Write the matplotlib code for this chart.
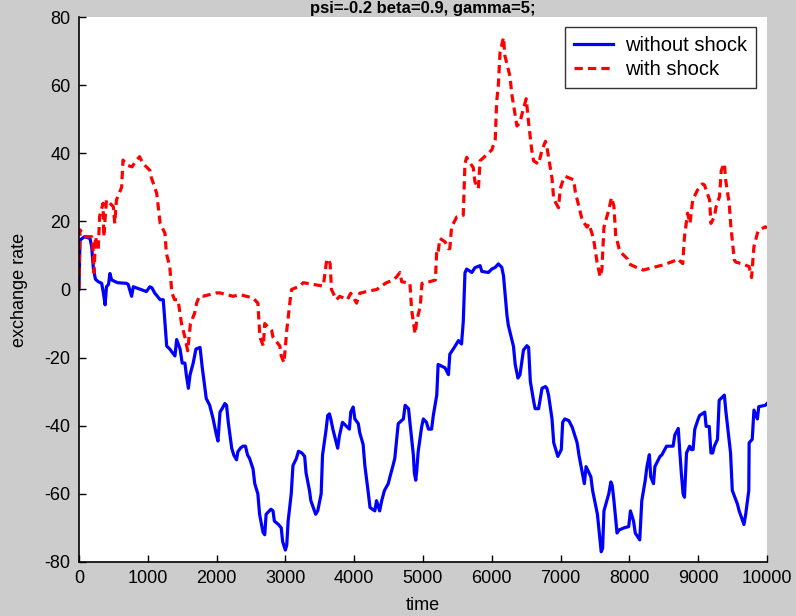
import numpy as np
from matplotlib import pyplot as plt

plt.rcParams['font.family'] = ['Liberation Sans', 'DejaVu Sans']
plt.rcParams['axes.unicode_minus'] = False

# without shock (blue)
t_blue = [0, 15, 80, 160, 185, 210, 240, 280, 330, 355, 380, 400, 430, 450, 475, 560, 690, 715, 765, 790,
          900, 980, 1030, 1060, 1100, 1180, 1225, 1250, 1275, 1320, 1395, 1420, 1470, 1500, 1540, 1560, 1590,
          1615, 1660, 1700, 1760, 1790, 1850, 1900, 1950, 1990, 2020, 2050, 2080, 2120, 2145, 2170, 2220, 2250,
          2290, 2310, 2350, 2385, 2420, 2450, 2480, 2530, 2555, 2600, 2625, 2675, 2700, 2720, 2790, 2820, 2840,
          2900, 2940, 2960, 3000, 3020, 3040, 3085, 3110, 3160, 3190, 3240, 3280, 3300, 3350, 3370, 3440, 3470,
          3520, 3540, 3590, 3615, 3640, 3660, 3690, 3760, 3785, 3830, 3880, 3930, 3950, 3985, 4010, 4060, 4080,
          4130, 4155, 4200, 4230, 4300, 4325, 4370, 4400, 4440, 4495, 4520, 4560, 4590, 4640, 4715, 4740, 4790,
          4810, 4860, 4875, 4895, 4910, 4930, 4980, 5005, 5050, 5080, 5125, 5150, 5200, 5220, 5270, 5320, 5370,
          5390, 5465, 5515, 5560, 5585, 5610, 5635, 5710, 5755, 5830, 5855, 5950, 6000, 6050, 6095, 6145, 6170,
          6220, 6240, 6315, 6340, 6380, 6410, 6460, 6510, 6535, 6560, 6610, 6630, 6680, 6730, 6780, 6800, 6825,
          6875, 6900, 6960, 7010, 7030, 7060, 7120, 7170, 7240, 7270, 7345, 7370, 7440, 7465, 7535, 7560, 7590,
          7610, 7630, 7700, 7730, 7750, 7775, 7820, 7850, 7920, 7990, 8015, 8060, 8085, 8150, 8180, 8230, 8255,
          8290, 8310, 8350, 8370, 8445, 8470, 8540, 8635, 8660, 8710, 8730, 8755, 8780, 8800, 8830, 8875, 8900,
          8925, 8950, 9000, 9020, 9095, 9115, 9160, 9185, 9210, 9235, 9280, 9305, 9380, 9400, 9470, 9495, 9570,
          9595, 9665, 9690, 9735, 9740, 9785, 9810, 9860, 9880, 9975, 10000]
y_blue = [0, 14.5, 15.5, 15, 12.5, 6, 3, 2.3, 1.8, -1, -4.5, 0.8, 1.5, 4.7, 2.8, 2, 1.8, 1.5, -2, 0.8,
          0, -0.6, 0.8, 0.5, -1, -3, -3, -10, -16.6, -17.5, -19.5, -14.7, -17.5, -21.6, -21.6, -25, -29,
          -25, -21.6, -17.5, -17, -22.6, -32, -34, -38, -42, -44.5, -36, -35, -33.5, -34, -39, -46.6, -48.6,
          -50, -47.6, -46.5, -46, -46, -48.6, -49.6, -52.7, -57, -60, -66, -71.3, -72, -66, -64.5, -65, -68,
          -69, -70, -74, -76.5, -75, -68, -60, -51.7, -49.6, -47.5, -48, -49, -53.8, -59, -62, -66, -65,
          -60, -48.6, -41.4, -37, -36.5, -38, -41, -46.6, -43, -39, -40, -41, -36, -34.5, -38, -39.4, -42,
          -45.5, -51.7, -58.9, -64, -65, -62, -65, -62, -59, -57, -55, -52, -49.6, -39.4, -38, -34, -35,
          -39, -48.6, -54, -56, -53, -47.6, -40.4, -38, -39, -41, -41, -37, -31, -22, -22.5, -23, -25,
          -19, -16.7, -15, -16, -9.5, 4.9, 6, 5, 6.4, 7, 5.3, 5, 6, 6.5, 7.5, 6.5, 4,
          -7.5, -10.5, -16.7, -22, -26, -25, -17.8, -16.5, -17, -27, -33, -35, -35, -29, -28.5, -29, -31,
          -38, -45, -49, -47, -39, -38, -38.5, -40.5, -45, -49, -57, -52, -55, -59, -66, -71, -77,
          -76, -65, -60, -56.5, -57.5, -62, -71.5, -70.6, -70, -69.6, -65, -68, -71.5, -73.5, -62, -56, -52,
          -48.5, -55, -57, -52, -49, -48.6, -46, -46, -42.7, -40.8, -47, -54, -60, -61, -48, -46, -47,
          -47, -41, -38, -37, -36, -40.2, -40.2, -48, -48, -46, -44, -32.5, -31, -35.4, -48, -59, -63,
          -65, -69, -66, -59, -45, -44, -35.4, -38, -34.4, -34, -33.5]

# with shock (red)
t_red = [0, 15, 100, 185, 200, 220, 240, 280, 300, 350, 360, 400, 500, 520, 545, 620, 640, 700, 770, 820,
         880, 930, 1030, 1050, 1130, 1180, 1250, 1270, 1320, 1350, 1390, 1440, 1490, 1540, 1580, 1620, 1680,
         1710, 1750, 1800, 2000, 2050, 2240, 2340, 2530, 2600, 2630, 2680, 2700, 2800, 2820, 2920, 2940, 2980,
         3020, 3070, 3090, 3210, 3260, 3400, 3550, 3600, 3620, 3650, 3670, 3740, 3790, 3900, 3950, 4035, 4080,
         4200, 4330, 4375, 4470, 4570, 4620, 4665, 4690, 4810, 4835, 4885, 4910, 4960, 4985, 5100, 5180, 5200,
         5220, 5245, 5320, 5370, 5390, 5415, 5465, 5490, 5585, 5610, 5635, 5660, 5730, 5755, 5805, 5830, 5950,
         6000, 6050, 6070, 6095, 6120, 6170, 6190, 6265, 6290, 6340, 6365, 6410, 6435, 6500, 6535, 6580, 6607,
         6680, 6730, 6780, 6800, 6825, 6875, 6900, 6970, 6995, 7045, 7070, 7190, 7215, 7290, 7315, 7385, 7410,
         7460, 7485, 7530, 7575, 7600, 7630, 7700, 7740, 7775, 7800, 7850, 7870, 7970, 7995, 8100, 8200, 8350,
         8490, 8600, 8680, 8700, 8775, 8800, 8845, 8880, 8920, 8990, 9060, 9090, 9115, 9165, 9185, 9235, 9260,
         9310, 9335, 9380, 9400, 9450, 9475, 9525, 9550, 9650, 9740, 9775, 9810, 9860, 9880, 9975, 10000]
y_red = [0, 17.5, 15.5, 15.5, 13.5, 5, 15.5, 11.6, 21.4, 25.3, 15.5, 26.3, 24.3, 19.4, 26.3, 30, 38, 36.5, 36, 37.5,
         39, 37, 35, 33, 28.2, 19.4, 16.5, 10.6, 6.7, -1, -3, -3, -10, -14, -18, -10, -7,
         -4, -2, -2, -1, -1, -2, -1.5, -2.5, -4, -14, -16.6, -10, -12, -14, -16.6, -19.5, -21.5,
         -12, -3, 0, 1, 2, 1.5, 1, 8.5, 9, 7.6, 0, -3, -2, -3, -1.1, -4, -1.1,
         -0.5, 0, 0.8, 2, 2.8, 3.8, 5, 2.3, 1.8, -6, -13, -9, -5, 1.8, 2.3, 2.8, 11.6,
         11, 15, 14, 12, 12, 18.3, 20.3, 21.3, 21.8, 37, 38.8, 37.8, 35.8, 31.6, 29.6, 37.8, 40,
         41, 44, 55, 60, 69.7, 74, 68.7, 62.5, 57.4, 51.2, 48, 49, 51.2, 56, 49, 41, 37.8,
         36.8, 41, 43.5, 42, 38.8, 32.7, 26.5, 24, 29.6, 32.7, 33.2, 32.2, 28.5, 22.4, 20.3, 18.3, 19.3,
         16.2, 14, 8, 3.7, 6, 18.3, 23.4, 27, 24.4, 16, 12, 11, 9, 7.5, 6.5, 5.7, 6.5,
         7.2, 8, 8.6, 9, 7.6, 15.5, 22.4, 19.4, 26.3, 29.2, 31, 30.7, 29.2, 26.3, 19.4, 21.4, 24.3,
         27.3, 35, 37, 32, 25.3, 18.4, 8.6, 8, 7.5, 6.7, 3.5, 12.6, 16.5, 17.4, 18.4, 18]

xtickpos = list(range(0, 10001, 1000))
ytickpos = list(range(-80, 81, 20))

fig = plt.figure(figsize=(7.96, 6.16), dpi=100, facecolor='#cccccc')
ax = fig.add_axes([0.0992, 0.0877, 0.8644, 0.8847])
ax.set_facecolor('white')

ax.plot(t_blue, y_blue, color='#0000ff', lw=2.3, label='without shock')
ax.plot(t_red, y_red, color='#ff0000', lw=2.3, linestyle=(0, (2.6, 1.6)), label='with shock')

ax.set_xlim(0, 10000)
ax.set_ylim(-80, 80)
ax.set_xticks(xtickpos)
ax.set_yticks(ytickpos)
ax.tick_params(direction='in', length=5, width=1, labelsize=13, colors='black')
ax.tick_params(axis='x', pad=6)
ax.tick_params(axis='y', pad=6)
for s in ['top', 'right']:
    ax.spines[s].set_visible(False)
for s in ['left', 'bottom']:
    ax.spines[s].set_linewidth(1.2)

ax.set_xlabel('time', fontsize=13, labelpad=7)
ax.set_ylabel('exchange rate', fontsize=13, labelpad=12)
fig.text(0.531, 0.999, 'psi=-0.2 beta=0.9, gamma=5;', ha='center', va='top',
         fontsize=12, fontweight='bold')

leg = ax.legend(loc='upper right', bbox_to_anchor=(0.984, 0.982), borderaxespad=0,
                fancybox=False, edgecolor='black', fontsize=14.5, handlelength=1.9,
                borderpad=0.45, labelspacing=0.25, handletextpad=0.6)
leg.get_frame().set_linewidth(1.0)

plt.savefig('out.png', dpi=100, facecolor=fig.get_facecolor())
